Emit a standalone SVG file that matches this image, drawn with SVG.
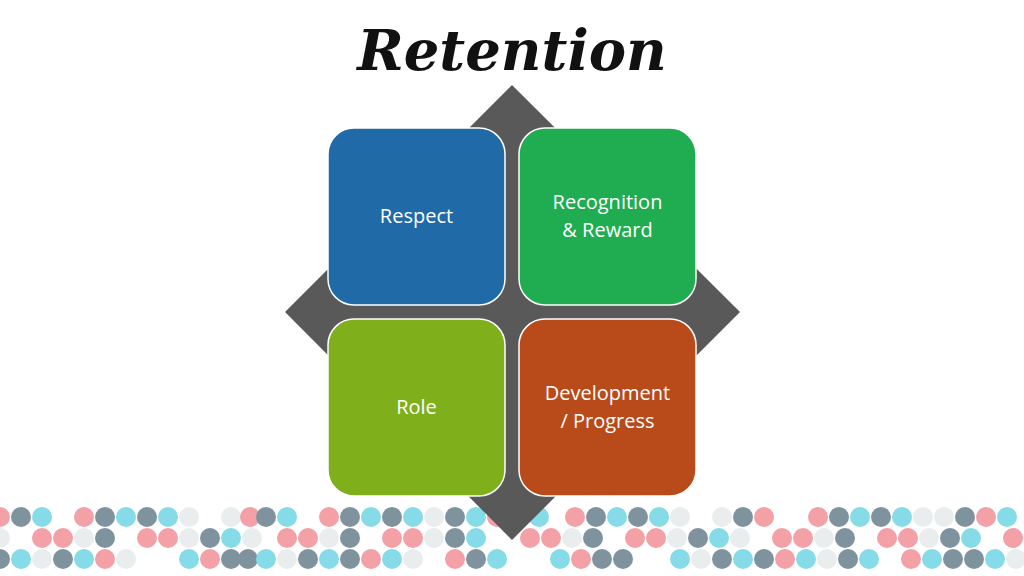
<svg xmlns="http://www.w3.org/2000/svg" width="1024" height="576" viewBox="0 0 1024 576">
<style>
.p{fill:#f3a0a6}.g{fill:#7f939f}.c{fill:#86dbe8}.l{fill:#e9eded}
.box{stroke:#fff;stroke-width:1.5}
.t{font-family:"Open Sans","Liberation Sans",sans-serif;font-size:20px;fill:#fff;text-anchor:middle}
</style>
<rect width="1024" height="576" fill="#fff"/>
<g id="dots">
<!-- row 1 -->
<circle class="p" cx="0" cy="517" r="10"/><circle class="g" cx="21" cy="517" r="10"/><circle class="c" cx="42" cy="517" r="10"/><circle class="p" cx="84" cy="517" r="10"/><circle class="g" cx="105" cy="517" r="10"/><circle class="c" cx="126" cy="517" r="10"/><circle class="g" cx="147" cy="517" r="10"/><circle class="c" cx="168" cy="517" r="10"/><circle class="l" cx="189" cy="517" r="10"/><circle class="l" cx="231" cy="517" r="10"/><circle class="p" cx="250" cy="517" r="10"/><circle class="g" cx="266" cy="517" r="10"/><circle class="c" cx="287" cy="517" r="10"/><circle class="p" cx="329" cy="517" r="10"/><circle class="g" cx="350" cy="517" r="10"/><circle class="c" cx="371" cy="517" r="10"/><circle class="g" cx="392" cy="517" r="10"/><circle class="c" cx="413" cy="517" r="10"/><circle class="l" cx="434" cy="517" r="10"/><circle class="g" cx="455" cy="517" r="10"/><circle class="c" cx="476" cy="517" r="10"/><circle class="p" cx="497" cy="517" r="10"/><circle class="c" cx="539" cy="517" r="10"/><circle class="p" cx="575" cy="517" r="10"/><circle class="g" cx="596" cy="517" r="10"/><circle class="c" cx="617" cy="517" r="10"/><circle class="g" cx="638" cy="517" r="10"/><circle class="c" cx="659" cy="517" r="10"/><circle class="l" cx="680" cy="517" r="10"/><circle class="l" cx="722" cy="517" r="10"/><circle class="g" cx="743" cy="517" r="10"/><circle class="p" cx="764" cy="517" r="10"/><circle class="p" cx="818" cy="517" r="10"/><circle class="g" cx="839" cy="517" r="10"/><circle class="c" cx="860" cy="517" r="10"/><circle class="g" cx="881" cy="517" r="10"/><circle class="c" cx="902" cy="517" r="10"/><circle class="l" cx="923" cy="517" r="10"/><circle class="l" cx="944" cy="517" r="10"/><circle class="g" cx="965" cy="517" r="10"/><circle class="p" cx="986" cy="517" r="10"/><circle class="c" cx="1007" cy="517" r="10"/>
<!-- row 2 -->
<circle class="l" cx="0" cy="538" r="10"/><circle class="p" cx="42" cy="538" r="10"/><circle class="p" cx="63" cy="538" r="10"/><circle class="l" cx="84" cy="538" r="10"/><circle class="g" cx="105" cy="538" r="10"/><circle class="p" cx="147" cy="538" r="10"/><circle class="p" cx="168" cy="538" r="10"/><circle class="l" cx="189" cy="538" r="10"/><circle class="g" cx="210" cy="538" r="10"/><circle class="c" cx="231" cy="538" r="10"/><circle class="l" cx="252" cy="538" r="10"/><circle class="p" cx="287" cy="538" r="10"/><circle class="p" cx="308" cy="538" r="10"/><circle class="l" cx="329" cy="538" r="10"/><circle class="g" cx="350" cy="538" r="10"/><circle class="p" cx="392" cy="538" r="10"/><circle class="p" cx="413" cy="538" r="10"/><circle class="l" cx="434" cy="538" r="10"/><circle class="g" cx="455" cy="538" r="10"/><circle class="c" cx="476" cy="538" r="10"/><circle class="p" cx="530" cy="538" r="10"/><circle class="p" cx="551" cy="538" r="10"/><circle class="l" cx="572" cy="538" r="10"/><circle class="g" cx="593" cy="538" r="10"/><circle class="p" cx="635" cy="538" r="10"/><circle class="p" cx="656" cy="538" r="10"/><circle class="l" cx="677" cy="538" r="10"/><circle class="g" cx="698" cy="538" r="10"/><circle class="c" cx="719" cy="538" r="10"/><circle class="l" cx="740" cy="538" r="10"/><circle class="p" cx="782" cy="538" r="10"/><circle class="p" cx="803" cy="538" r="10"/><circle class="l" cx="824" cy="538" r="10"/><circle class="g" cx="845" cy="538" r="10"/><circle class="p" cx="887" cy="538" r="10"/><circle class="p" cx="908" cy="538" r="10"/><circle class="l" cx="929" cy="538" r="10"/><circle class="g" cx="950" cy="538" r="10"/><circle class="c" cx="971" cy="538" r="10"/><circle class="p" cx="1013" cy="538" r="10"/>
<!-- row 3 -->
<circle class="g" cx="0" cy="559" r="10"/><circle class="c" cx="21" cy="559" r="10"/><circle class="l" cx="42" cy="559" r="10"/><circle class="g" cx="63" cy="559" r="10"/><circle class="c" cx="84" cy="559" r="10"/><circle class="p" cx="105" cy="559" r="10"/><circle class="l" cx="126" cy="559" r="10"/><circle class="c" cx="189" cy="559" r="10"/><circle class="p" cx="210" cy="559" r="10"/><circle class="g" cx="231" cy="559" r="10"/><circle class="g" cx="248" cy="559" r="10"/><circle class="c" cx="266" cy="559" r="10"/><circle class="l" cx="287" cy="559" r="10"/><circle class="g" cx="308" cy="559" r="10"/><circle class="c" cx="329" cy="559" r="10"/><circle class="g" cx="350" cy="559" r="10"/><circle class="p" cx="371" cy="559" r="10"/><circle class="c" cx="392" cy="559" r="10"/><circle class="l" cx="413" cy="559" r="10"/><circle class="p" cx="455" cy="559" r="10"/><circle class="g" cx="476" cy="559" r="10"/><circle class="c" cx="497" cy="559" r="10"/><circle class="c" cx="560" cy="559" r="10"/><circle class="p" cx="581" cy="559" r="10"/><circle class="g" cx="602" cy="559" r="10"/><circle class="g" cx="623" cy="559" r="10"/><circle class="c" cx="680" cy="559" r="10"/><circle class="l" cx="701" cy="559" r="10"/><circle class="g" cx="722" cy="559" r="10"/><circle class="c" cx="743" cy="559" r="10"/><circle class="g" cx="764" cy="559" r="10"/><circle class="p" cx="785" cy="559" r="10"/><circle class="c" cx="806" cy="559" r="10"/><circle class="l" cx="827" cy="559" r="10"/><circle class="g" cx="848" cy="559" r="10"/><circle class="c" cx="869" cy="559" r="10"/><circle class="p" cx="911" cy="559" r="10"/><circle class="c" cx="932" cy="559" r="10"/><circle class="g" cx="953" cy="559" r="10"/><circle class="g" cx="974" cy="559" r="10"/><circle class="c" cx="995" cy="559" r="10"/><circle class="l" cx="1016" cy="559" r="10"/>
</g>
<text x="512" y="70" font-family="'DejaVu Serif','Liberation Serif',serif" font-style="italic" font-weight="bold" font-size="56" text-anchor="middle" fill="#111">Retention</text>
<g id="connectors"></g>
<g id="diamond"><polygon points="512,85 740,312 512,540 285,312" fill="#595959"/></g>
<g id="respect"><rect class="box" x="328" y="128" width="177" height="177" rx="26" fill="#1f6aa7"/><text class="t" x="416.5" y="223">Respect</text></g>
<g id="recognition"><rect class="box" x="519" y="128" width="177" height="177" rx="26" fill="#20ad51"/><text class="t" x="607.5" y="209">Recognition</text><text class="t" x="607.5" y="237">&amp; Reward</text></g>
<g id="role"><rect class="box" x="328" y="319" width="177" height="177" rx="26" fill="#7faf1b"/><text class="t" x="416.5" y="414">Role</text></g>
<g id="development"><rect class="box" x="519" y="319" width="177" height="177" rx="26" fill="#b84b19"/><text class="t" x="607.5" y="400">Development</text><text class="t" x="607.5" y="428">/ Progress</text></g>
</svg>
